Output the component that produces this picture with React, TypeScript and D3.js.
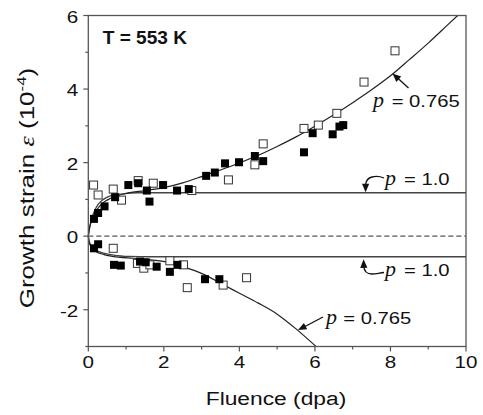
import React from "react";
import * as d3 from "d3";

// Filled squares (fluence dpa, strain 1e-4)
const filledX = [0.15, 0.26, 0.43, 0.71, 1.06, 1.32, 1.55, 1.62, 1.98, 2.35, 2.66, 3.12, 3.35, 3.62, 3.99, 4.41, 4.63, 5.71, 5.94, 6.47, 6.65, 6.75,
  0.15, 0.26, 0.68, 0.86, 1.37, 1.52, 1.81, 2.16, 2.36, 3.09, 3.47];
const filledY = [0.47, 0.63, 0.81, 1.06, 1.39, 1.44, 1.24, 0.94, 1.39, 1.24, 1.28, 1.64, 1.73, 1.98, 2.01, 2.18, 2.04, 2.28, 2.8, 2.77, 2.98, 3.02,
  -0.33, -0.22, -0.78, -0.8, -0.69, -0.71, -0.83, -0.97, -0.78, -1.17, -1.17];
// Open squares
const openX = [0.14, 0.26, 0.66, 0.88, 1.32, 1.72, 2.74, 3.71, 4.41, 4.63, 5.71, 6.09, 6.58, 7.3, 8.12,
  0.66, 1.3, 1.47, 1.63, 2.16, 2.52, 2.62, 3.57, 4.19];
const openY = [1.39, 1.12, 1.28, 0.98, 1.51, 1.44, 1.24, 1.53, 1.94, 2.51, 2.93, 3.02, 3.34, 4.19, 5.04,
  -0.33, -0.74, -0.87, -0.78, -0.67, -0.78, -1.4, -1.33, -1.13];

// Fit curves
const upper765X = [0, 0.03, 0.08, 0.15, 0.3, 0.5, 0.75, 1, 1.5, 2, 2.5, 3, 3.5, 4, 4.5, 5, 5.5, 6, 6.5, 7, 7.5, 8, 8.5, 9, 9.5, 9.78];
const upper765Y = [0, 0.2, 0.4, 0.58, 0.82, 0.98, 1.09, 1.16, 1.24, 1.32, 1.45, 1.62, 1.8, 1.99, 2.2, 2.44, 2.7, 2.99, 3.3, 3.63, 3.98, 4.36, 4.8, 5.25, 5.73, 6.0];
const upper10X = [0, 0.03, 0.08, 0.15, 0.25, 0.4, 0.6, 0.9, 1.3, 2, 10];
const upper10Y = [0, 0.22, 0.45, 0.65, 0.85, 1.0, 1.1, 1.15, 1.18, 1.18, 1.18];
const lower765X = [0, 0.02, 0.08, 0.2, 0.42, 0.8, 1.2, 1.6, 2.1, 2.5, 2.8, 3.1, 3.5, 4, 4.5, 5, 5.5, 6.02];
const lower765Y = [0, -0.15, -0.3, -0.42, -0.5, -0.57, -0.6, -0.64, -0.71, -0.83, -0.93, -1.06, -1.28, -1.55, -1.82, -2.12, -2.52, -2.99];
const lower10X = [0, 0.02, 0.08, 0.2, 0.4, 0.7, 1.1, 1.6, 10];
const lower10Y = [0, -0.12, -0.27, -0.38, -0.46, -0.52, -0.55, -0.56, -0.56];

const xTicks = [0, 2, 4, 6, 8, 10];
const xMinor = [1, 3, 5, 7, 9];
const yTicks = [-2, 0, 2, 4, 6];
const yMinor = [-3, -1, 1, 3, 5];

const SANS = "'Liberation Sans', Arial, Helvetica, sans-serif";
const SERIF = "'Liberation Serif', 'Times New Roman', serif";

const xs = d3.scaleLinear().domain([0, 10]).range([88.3, 466]);
const ys = d3.scaleLinear().domain([-3, 6]).range([346.5, 15.5]);

function pts(X: number[], Y: number[]): [number, number][] {
  return X.map((x, i) => [x, Y[i]]);
}
const line = d3
  .line<[number, number]>()
  .x((d) => xs(d[0]))
  .y((d) => ys(d[1]))
  .curve(d3.curveMonotoneX);

function Head({ fx, fy, tx, ty }: { fx: number; fy: number; tx: number; ty: number }) {
  const a = Math.atan2(ty - fy, tx - fx);
  const L = 8.5, W = 3.6;
  const bx = tx - L * Math.cos(a), by = ty - L * Math.sin(a);
  const p1 = [bx + W * Math.sin(a), by - W * Math.cos(a)];
  const p2 = [bx - W * Math.sin(a), by + W * Math.cos(a)];
  return <polygon points={`${tx},${ty} ${p1[0]},${p1[1]} ${p2[0]},${p2[1]}`} fill="#111" />;
}

function T({ x, y, sx = 1.2, anchor = "start", size = 17, weight = "normal", children }: any) {
  return (
    <text
      transform={`translate(${x},${y}) scale(${sx},1)`}
      textAnchor={anchor}
      fontFamily={SANS}
      fontSize={size}
      fontWeight={weight}
      fill="#111"
    >
      {children}
    </text>
  );
}

function PLabel({ px, tx, y, label }: { px: number; tx: number; y: number; label: string }) {
  return (
    <g>
      <text x={px} y={y} fontFamily={SERIF} fontStyle="italic" fontSize={22} fill="#111">p</text>
      <T x={tx} y={y} sx={1.19}>{label}</T>
    </g>
  );
}

export default function App() {
  const s = 8;
  const axisColor = "#555";
  return (
    <svg width={483} height={415} style={{ position: "absolute", left: 0, top: 0, background: "#fff" }}>
      {/* zero dashed line */}
      <line x1={xs(0)} x2={xs(10)} y1={ys(0)} y2={ys(0)} stroke="#555" strokeWidth={1.2} strokeDasharray="5,3" />
      {/* fit curves */}
      <path d={line(pts(upper10X, upper10Y)) || ""} fill="none" stroke="#444" strokeWidth={1.3} />
      <path d={line(pts(lower10X, lower10Y)) || ""} fill="none" stroke="#444" strokeWidth={1.3} />
      <path d={line(pts(upper765X, upper765Y)) || ""} fill="none" stroke="#222" strokeWidth={1.2} />
      <path d={line(pts(lower765X, lower765Y)) || ""} fill="none" stroke="#222" strokeWidth={1.2} />

      {/* markers */}
      {openX.map((x, i) => (
        <rect key={"o" + i} x={xs(x) - s / 2} y={ys(openY[i]) - s / 2} width={s} height={s} fill="#fff" stroke="#333" strokeWidth={1} />
      ))}
      {filledX.map((x, i) => (
        <rect key={"f" + i} x={xs(x) - s / 2} y={ys(filledY[i]) - s / 2} width={s} height={s} fill="#000" />
      ))}

      {/* frame */}
      <rect x={xs(0)} y={ys(6)} width={xs(10) - xs(0)} height={ys(-3) - ys(6)} fill="none" stroke={axisColor} strokeWidth={1.3} />
      {/* ticks */}
      {xTicks.map((t) => (
        <line key={"xt" + t} x1={xs(t)} x2={xs(t)} y1={ys(-3)} y2={ys(-3) + 5} stroke={axisColor} strokeWidth={1.2} />
      ))}
      {xMinor.map((t) => (
        <line key={"xm" + t} x1={xs(t)} x2={xs(t)} y1={ys(-3)} y2={ys(-3) + 3} stroke={axisColor} strokeWidth={1.2} />
      ))}
      {yTicks.map((t) => (
        <line key={"yt" + t} x1={xs(0) - 5} x2={xs(0)} y1={ys(t)} y2={ys(t)} stroke={axisColor} strokeWidth={1.2} />
      ))}
      {yMinor.map((t) => (
        <line key={"ym" + t} x1={xs(0) - 3} x2={xs(0)} y1={ys(t)} y2={ys(t)} stroke={axisColor} strokeWidth={1.2} />
      ))}
      {/* tick labels */}
      {xTicks.map((t) => (
        <T key={"xl" + t} x={xs(t)} y={367.5} anchor="middle" size={16.5} sx={1.25}>{String(t)}</T>
      ))}
      {yTicks.map((t) => (
        <T key={"yl" + t} x={78.3} y={ys(t) + 7} anchor="end" size={16.5} sx={1.25}>{t < 0 ? "-" + Math.abs(t) : String(t)}</T>
      ))}

      {/* axis titles */}
      <T x={276} y={405} anchor="middle" size={19} sx={1.2}>Fluence (dpa)</T>
      <text transform={`translate(33.5,188) rotate(-90) scale(1.3,1)`} textAnchor="middle" fontFamily={SANS} fontSize={20} fill="#111">
        Growth strain <tspan fontFamily={SERIF} fontStyle="italic">ε</tspan> (10<tspan fontSize={13} dy={-8}>-4</tspan><tspan dy={8}>)</tspan>
      </text>

      {/* temperature */}
      <T x={102.7} y={44.3} size={17.5} weight="bold" sx={1.09}>T = 553 K</T>

      {/* annotations */}
      <PLabel px={373} tx={391.7} y={106.5} label="= 0.765" />
      <line x1={408.5} y1={88} x2={397} y2={77.5} stroke="#111" strokeWidth={1.3} />
      <Head fx={408.5} fy={88} tx={392.5} ty={73.5} />

      <PLabel px={326} tx={343.3} y={324} label="= 0.765" />
      <line x1={323} y1={317} x2={304} y2={327} stroke="#111" strokeWidth={1.3} />
      <Head fx={323} fy={317} tx={298} ty={330} />

      <PLabel px={385} tx={404} y={185} label="= 1.0" />
      <path d="M384,178 C379,176 376,176 372,177 C368,178 366,180.5 365.6,184.5" fill="none" stroke="#111" strokeWidth={1.3} />
      <Head fx={365.6} fy={183} tx={365.6} ty={192.3} />

      <PLabel px={385} tx={404} y={276} label="= 1.0" />
      <path d="M363.8,266 C364,271 367,274 372,274 C376,274 379,273 384,272.5" fill="none" stroke="#111" strokeWidth={1.3} />
      <Head fx={363.8} fy={268} tx={363.6} ty={259.3} />
    </svg>
  );
}
